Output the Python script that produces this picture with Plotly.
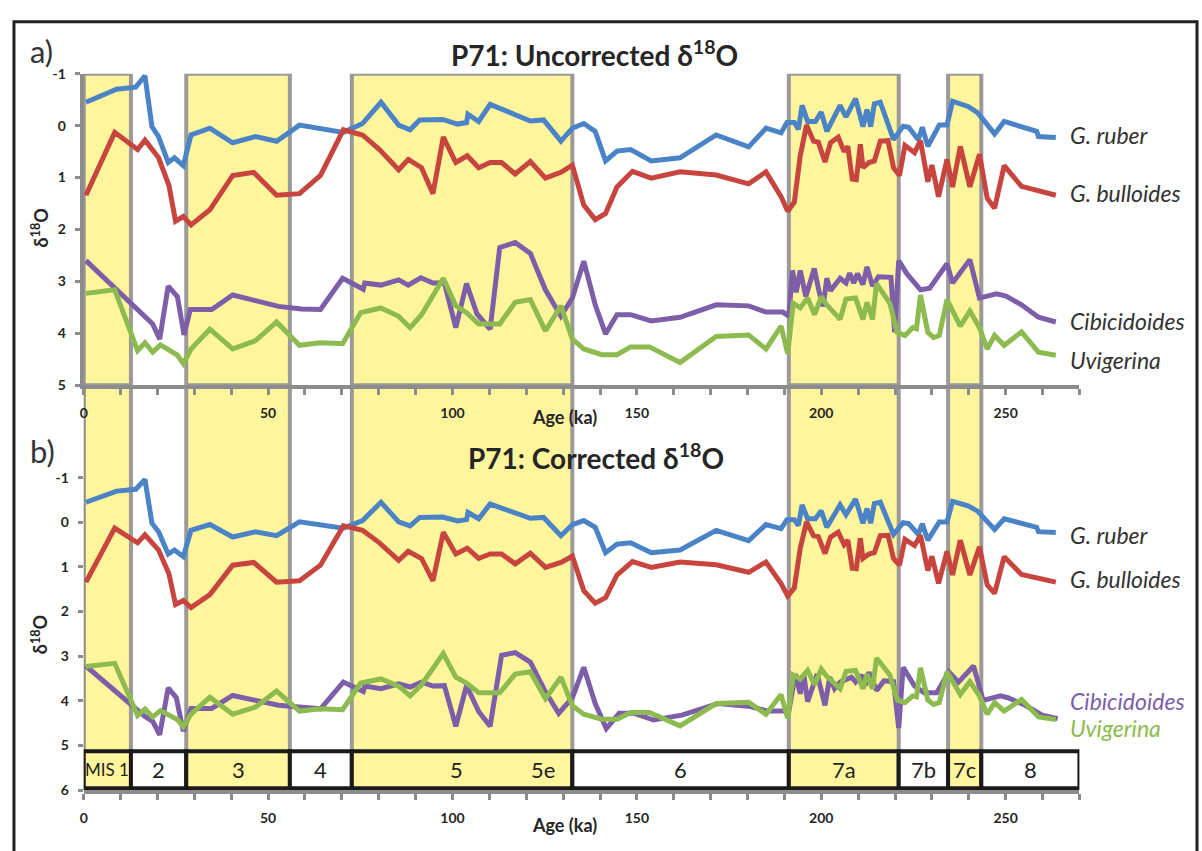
import plotly.graph_objects as go

# ---------------- data ----------------
ruber_age = [0.6, 8.9, 14.1, 16.6, 18.5, 20.3, 22.9, 24.6, 27.0, 29.1, 34.2, 40.4, 46.6, 52.3, 58.5,
             64.2, 70.4, 75.6, 80.6, 85.4, 88.5, 91.1, 97.3, 101.4, 103.8, 104.2, 107.1, 110.2, 113.8,
             117.5, 121.1, 124.7, 129.4, 132.5, 135.6, 138.7, 141.5, 144.6, 148.3, 153.9, 161.7, 171.5,
             180.3, 185.0, 189.1, 190.7, 192.7, 193.8, 194.8, 196.3, 198.4, 200.0, 201.5, 205.1, 206.7,
             209.3, 211.3, 212.4, 213.4, 214.4, 216.0, 219.6, 222.2, 223.7, 226.3, 227.4, 228.9, 232.0,
             234.1, 235.6, 239.8, 242.4, 247.0, 249.6, 258.4, 258.9, 263.6]
ruber_d18o = [-0.45, -0.70, -0.74, -0.96, 0.02, 0.21, 0.71, 0.62, 0.77, 0.18, 0.05, 0.33, 0.21, 0.30, -0.01,
              0.05, 0.13, -0.04, -0.45, -0.01, 0.08, -0.11, -0.12, -0.03, -0.06, -0.22, -0.08, -0.41, -0.30,
              -0.20, -0.09, -0.11, 0.30, 0.05, -0.04, 0.11, 0.68, 0.49, 0.46, 0.68, 0.62, 0.18,
              0.41, 0.05, 0.14, -0.06, -0.06, 0.07, -0.39, -0.08, -0.08, -0.26, 0.11, -0.39, -0.17,
              -0.52, 0.02, -0.31, 0.02, -0.42, -0.45, 0.27, 0.01, 0.03, 0.27, 0.03, 0.40, -0.01,
              -0.01, -0.47, -0.37, -0.25, 0.16, -0.08, 0.11, 0.21, 0.23]

bull_age = [0.6, 8.4, 14.6, 16.6, 20.3, 23.1, 24.9, 27.0, 29.1, 34.2, 40.4, 46.1, 52.3, 58.5, 64.2, 70.4,
            75.6, 80.2, 85.4, 88.0, 91.6, 94.7, 97.5, 100.9, 104.0, 107.1, 110.2, 113.3, 117.0, 121.1,
            125.2, 129.4, 132.5, 135.6, 138.7, 141.5, 144.6, 148.8, 153.9, 161.7, 171.5, 180.3, 185.0,
            189.1, 190.9, 192.7, 194.3, 196.0, 197.9, 199.2, 201.0, 202.5, 204.6, 206.2, 207.2, 208.4,
            209.5, 210.6, 211.3, 212.9, 214.4, 216.0, 218.1, 219.6, 221.2, 222.7, 225.3, 226.9, 228.9,
            230.0, 231.8, 234.1, 235.6, 237.7, 240.3, 242.9, 245.0, 247.0, 249.6, 254.3, 263.6]
bull_d18o = [1.34, 0.13, 0.46, 0.28, 0.62, 1.15, 1.84, 1.75, 1.91, 1.62, 0.96, 0.90, 1.34, 1.31, 0.96, 0.08,
             0.18, 0.46, 0.85, 0.65, 0.81, 1.31, 0.22, 0.71, 0.58, 0.81, 0.71, 0.71, 0.93, 0.69,
             1.01, 0.90, 0.76, 1.53, 1.81, 1.69, 1.18, 0.88, 1.01, 0.89, 0.95, 1.12, 0.89,
             1.37, 1.65, 1.47, 0.58, -0.01, 0.30, 0.32, 0.70, 0.33, 0.22, 0.50, 0.40, 1.03,
             1.04, 0.36, 0.81, 0.71, 0.68, 0.30, 0.29, 0.81, 0.96, 0.38, 0.52, 0.29, 1.08,
             0.76, 1.37, 0.65, 1.18, 0.40, 1.18, 0.55, 1.40, 1.59, 0.77, 1.17, 1.34]

cib_unc_age = [0.6, 16.6, 18.7, 20.6, 22.9, 25.4, 27.2, 28.9, 34.7, 40.4, 52.8, 59.0, 64.2, 70.2, 75.8,
               76.2, 80.6, 85.4, 88.0, 91.4, 94.7, 97.8, 100.9, 103.8, 106.6, 110.2, 112.8, 117.0, 121.1,
               125.2, 129.4, 132.5, 135.6, 138.7, 141.5, 144.6, 148.3, 153.9, 161.7, 171.5, 180.3, 185.0,
               189.6, 191.2, 192.2, 193.2, 194.3, 195.8, 198.1, 199.4, 200.5, 201.5, 202.5, 205.1, 206.7,
               207.7, 208.8, 209.8, 211.3, 212.4, 213.9, 215.5, 218.9, 219.9, 221.0, 223.2, 226.9, 229.4,
               234.1, 235.6, 240.3, 242.9, 247.5, 250.1, 254.3, 258.9, 263.6]
cib_unc_d18o = [2.60, 3.70, 3.82, 4.11, 3.09, 3.29, 4.03, 3.54, 3.54, 3.26, 3.48, 3.53, 3.54, 2.94, 3.15,
                3.03, 3.07, 2.97, 3.07, 2.93, 3.03, 3.03, 3.89, 3.04, 3.62, 3.92, 2.35, 2.25, 2.46,
                3.16, 3.67, 3.32, 2.61, 3.45, 4.01, 3.64, 3.64, 3.76, 3.69, 3.45, 3.47, 3.59,
                3.59, 3.67, 2.79, 3.21, 2.79, 3.29, 2.75, 3.19, 3.48, 2.94, 3.18, 2.94, 3.03,
                2.84, 3.03, 2.85, 3.06, 2.72, 3.09, 2.91, 2.92, 3.98, 2.60, 2.85, 3.16, 3.13,
                2.66, 3.03, 2.58, 3.32, 3.24, 3.28, 3.45, 3.69, 3.78]

cib_cor_age = [0.6, 16.6, 18.7, 20.6, 22.9, 25.1, 27.0, 29.1, 34.7, 40.4, 52.8, 58.5, 64.2, 70.4, 75.8,
               76.2, 80.6, 85.4, 88.5, 91.6, 94.7, 97.8, 100.9, 103.8, 107.1, 110.2, 113.3, 117.0, 121.1,
               125.2, 128.8, 132.5, 135.6, 138.7, 141.7, 145.2, 149.3, 154.5, 162.2, 172.0, 180.8, 185.5,
               191.2, 193.0, 194.3, 195.3, 196.3, 198.9, 201.0, 202.3, 203.6, 205.1, 206.7, 208.2, 209.3,
               210.8, 211.9, 212.9, 215.0, 217.0, 219.6, 221.0, 222.2, 225.3, 227.9, 231.3, 234.6, 237.2,
               241.3, 243.9, 248.6, 250.6, 255.3, 259.9, 264.1]
cib_cor_d18o = [3.22, 4.35, 4.46, 4.76, 3.71, 3.93, 4.68, 4.17, 4.17, 3.88, 4.10, 4.15, 4.18, 3.58, 3.79,
                3.67, 3.73, 3.62, 3.69, 3.58, 3.67, 3.66, 4.57, 3.66, 4.24, 4.57, 2.98, 2.92, 3.13,
                3.80, 4.28, 3.93, 3.25, 4.06, 4.62, 4.28, 4.28, 4.43, 4.32, 4.06, 4.13, 4.23,
                4.23, 3.40, 3.84, 3.44, 4.02, 3.40, 4.10, 3.47, 3.73, 3.58, 3.52, 3.47, 3.58,
                3.42, 3.66, 3.36, 3.77, 3.55, 3.57, 4.61, 3.25, 3.67, 3.82, 3.82, 3.35, 3.58,
                3.22, 3.99, 3.89, 3.93, 4.10, 4.32, 4.40]

uvi_age = [0.6, 8.4, 14.6, 16.6, 18.7, 20.8, 25.4, 27.0, 29.1, 34.2, 40.4, 46.6, 52.3, 58.5, 64.2, 70.2,
           75.1, 80.6, 85.4, 88.5, 91.6, 97.5, 100.9, 103.8, 107.1, 112.8, 117.0, 121.1, 125.2, 129.4,
           132.5, 135.6, 140.5, 144.6, 148.3, 153.4, 161.7, 171.5, 180.3, 185.0, 189.1, 190.9, 192.4,
           194.3, 196.3, 198.2, 200.0, 201.5, 205.1, 206.7, 209.3, 211.3, 212.4, 213.9, 215.0, 218.6,
           220.6, 222.7, 224.8, 225.8, 226.9, 228.9, 230.5, 232.0, 234.1, 237.7, 240.3, 242.9, 245.0,
           247.0, 249.6, 254.3, 258.9, 263.6]
uvi_d18o = [3.23, 3.16, 4.33, 4.18, 4.36, 4.22, 4.42, 4.58, 4.30, 3.92, 4.30, 4.14, 3.78, 4.23, 4.18, 4.20,
            3.60, 3.51, 3.67, 3.89, 3.64, 2.94, 3.47, 3.60, 3.82, 3.82, 3.40, 3.35, 3.95, 3.47,
            4.11, 4.30, 4.41, 4.41, 4.26, 4.26, 4.56, 4.06, 4.03, 4.30, 3.86, 4.39, 3.42,
            3.51, 3.32, 3.64, 3.29, 3.45, 3.73, 3.34, 3.32, 3.73, 3.40, 3.73, 3.04, 3.42,
            3.98, 4.04, 3.89, 3.91, 3.26, 3.98, 4.08, 4.04, 3.35, 3.86, 3.57, 3.89, 4.30,
            4.04, 4.23, 3.97, 4.36, 4.42]

# Marine isotope stage boundaries (ka) and labels
mis_bounds = [0, 12.8, 27.8, 55.9, 72.7, 132.5, 191.2, 221.0, 234.4, 243.4, 270]
mis_labels = ["MIS 1", "2", "3", "4", "5", "6", "7a", "7b", "7c", "8"]
mis_warm = [True, False, True, False, True, False, True, False, True, False]
sub_label = "5e"
sub_label_age = 124.5
main5_label_age = 101.0

x_ticks = list(range(0, 271, 10))
x_ticktext = [str(v) if v % 50 == 0 else "" for v in x_ticks]
ya_ticks = list(range(-1, 6))
yb_ticks = list(range(-1, 7))

# ---------------- styling ----------------
W, H = 1202, 851
C_RUBER = "#4A84C6"
C_BULL = "#C8453F"
C_CIB = "#7D5EA8"
C_UVI = "#8DBB4F"
YELLOW = "#FFF59C"
BOXGRAY = "#9A9A9A"
AXGRAY = "#8C8C8C"
TXT = "#262626"
FONT = "Lato"
LW = 5


def fx(p):
    return p / W


def fy(p):
    return 1 - p / H


fig = go.Figure()

series = [("G. ruber", ruber_age, ruber_d18o, C_RUBER),
          ("G. bulloides", bull_age, bull_d18o, C_BULL),
          ("Cibicidoides", cib_unc_age, cib_unc_d18o, C_CIB),
          ("Uvigerina", uvi_age, uvi_d18o, C_UVI)]
series_b = [("G. ruber", ruber_age, ruber_d18o, C_RUBER),
            ("G. bulloides", bull_age, bull_d18o, C_BULL),
            ("Cibicidoides", cib_cor_age, cib_cor_d18o, C_CIB),
            ("Uvigerina", uvi_age, uvi_d18o, C_UVI)]

for name, xa, ya, c in series:
    fig.add_trace(go.Scatter(x=xa, y=ya, mode="lines", name=name, showlegend=False,
                             line=dict(color=c, width=LW), xaxis="x", yaxis="y"))
for name, xa, ya, c in series_b:
    fig.add_trace(go.Scatter(x=xa, y=ya, mode="lines", name=name, showlegend=False,
                             line=dict(color=c, width=LW), xaxis="x2", yaxis="y2"))

XDOM = [fx(80), fx(1079)]
YA_DOM = [fy(384), fy(66)]
YB_DOM = [fy(797), fy(384)]
YB_RANGE = [6, -3.07]


def yb_paper(v):
    # linear map of a value on the lower panel's (reversed) y axis to paper coordinates
    lo, hi = YB_RANGE
    return YB_DOM[0] + (v - lo) / (hi - lo) * (YB_DOM[1] - YB_DOM[0])


tickfont = dict(family=FONT, size=14, color=TXT, weight="bold")
xcommon = dict(range=[0, 270], domain=XDOM, tickmode="array", tickvals=x_ticks, ticktext=x_ticktext,
               ticks="outside", ticklen=6, tickwidth=3, tickcolor=AXGRAY, showline=True,
               linecolor=AXGRAY, linewidth=4, showgrid=False, zeroline=False, tickfont=tickfont,
               ticklabelstandoff=6)
ycommon = dict(ticks="outside", ticklen=5, tickwidth=3, tickcolor=AXGRAY,
               linecolor=AXGRAY, linewidth=4, showgrid=False, zeroline=False, tickfont=tickfont,
               ticklabelstandoff=6, tickmode="array")
fig.update_layout(
    width=W, height=H, margin=dict(l=0, r=0, t=0, b=0),
    paper_bgcolor="white", plot_bgcolor="rgba(0,0,0,0)",
    xaxis=dict(anchor="y", **xcommon),
    xaxis2=dict(anchor="y2", **xcommon),
    yaxis=dict(domain=YA_DOM, range=[5, -1], tickvals=ya_ticks, ticktext=[str(v) for v in ya_ticks],
               anchor="x", showline=True, **ycommon),
    yaxis2=dict(domain=YB_DOM, range=YB_RANGE, tickvals=yb_ticks, ticktext=[str(v) for v in yb_ticks],
                anchor="x2", showline=False, **ycommon),
)

shapes = []
BAR_TOP, BAR_BOT = 5.13, 5.96
# lower-panel stage bands are placed in the paper-level lower layer so that the
# upper panel's tick labels stay visible above them
for i, warm in enumerate(mis_warm):
    x0, x1 = mis_bounds[i], mis_bounds[i + 1]
    if warm:
        shapes.append(dict(type="rect", xref="x2", yref="paper", x0=x0, x1=x1,
                           y0=yb_paper(BAR_TOP), y1=YB_DOM[1],
                           fillcolor=YELLOW, line=dict(width=0), layer="below"))
for b in mis_bounds[:-1]:
    shapes.append(dict(type="line", xref="x2", yref="paper", x0=b, x1=b,
                       y0=yb_paper(6), y1=YB_DOM[1],
                       line=dict(color=BOXGRAY if b > 0 else AXGRAY, width=4), layer="below"))
for i, warm in enumerate(mis_warm):
    x0, x1 = mis_bounds[i], mis_bounds[i + 1]
    if warm:
        shapes.append(dict(type="rect", xref="x", yref="y", x0=x0, x1=x1, y0=-1, y1=5,
                           fillcolor=YELLOW, line=dict(color=BOXGRAY, width=4), layer="below"))
# MIS bar
for i, warm in enumerate(mis_warm):
    shapes.append(dict(type="rect", xref="x2", yref="y2", x0=mis_bounds[i], x1=mis_bounds[i + 1],
                       y0=BAR_TOP, y1=BAR_BOT, fillcolor=YELLOW if warm else "white",
                       line=dict(color="#1a1a1a", width=4), layer="above"))
# outer frame
shapes.append(dict(type="rect", xref="paper", yref="paper", x0=fx(10), x1=fx(1197), y0=-0.05,
                   y1=fy(13), line=dict(color="#222222", width=3), fillcolor="rgba(0,0,0,0)",
                   layer="above"))
fig.update_layout(shapes=shapes)

ann = []


def add_text(text, x, y, size, color=TXT, xanchor="center", weight=None, angle=0, ref=("paper", "paper")):
    f = dict(family=FONT, size=size, color=color)
    if weight:
        f["weight"] = weight
    ann.append(dict(text=text, x=x, y=y, xref=ref[0], yref=ref[1], showarrow=False, xanchor=xanchor,
                    yanchor="middle", font=f, textangle=angle))


add_text("a)", fx(24), fy(43), 31, color="#333333", xanchor="left")
add_text("b)", fx(24), fy(451), 31, color="#333333", xanchor="left")
add_text("<b>P71: Uncorrected δ<sup>18</sup>O</b>", fx(592), fy(45), 28)
add_text("<b>P71: Corrected δ<sup>18</sup>O</b>", fx(594), fy(457), 28)
add_text("<b>δ<sup>18</sup>O</b>", fx(36), fy(223), 18, angle=-90)
add_text("<b>δ<sup>18</sup>O</b>", fx(36), fy(638), 18, angle=-90)
add_text("<b>Age (ka)</b>", fx(562), fy(416), 18)
add_text("<b>Age (ka)</b>", fx(562), fy(833), 18)

labels_a = [("G. ruber", 129, "#333333"), ("G. bulloides", 188, "#333333"),
            ("Cibicidoides", 318, "#333333"), ("Uvigerina", 358, "#333333")]
labels_b = [("G. ruber", 537, "#333333"), ("G. bulloides", 582, "#333333"),
            ("Cibicidoides", 706, C_CIB), ("Uvigerina", 734, C_UVI)]
for t, yy, c in labels_a + labels_b:
    add_text("<i>" + t + "</i>", fx(1068), fy(yy), 23, color=c, xanchor="left")

for i, lab in enumerate(mis_labels):
    xc = (mis_bounds[i] + mis_bounds[i + 1]) / 2
    if lab == "5":
        xc = main5_label_age
    add_text(lab, xc, 5.55, 22 if lab != "MIS 1" else 17, color="#222222", ref=("x2", "y2"))
add_text(sub_label, sub_label_age, 5.55, 22, color="#222222", ref=("x2", "y2"))

fig.update_layout(annotations=ann)
fig.write_html("out.html", config={"displayModeBar": False},
               post_script="document.body.style.margin='0px';document.body.style.overflow='hidden';")
